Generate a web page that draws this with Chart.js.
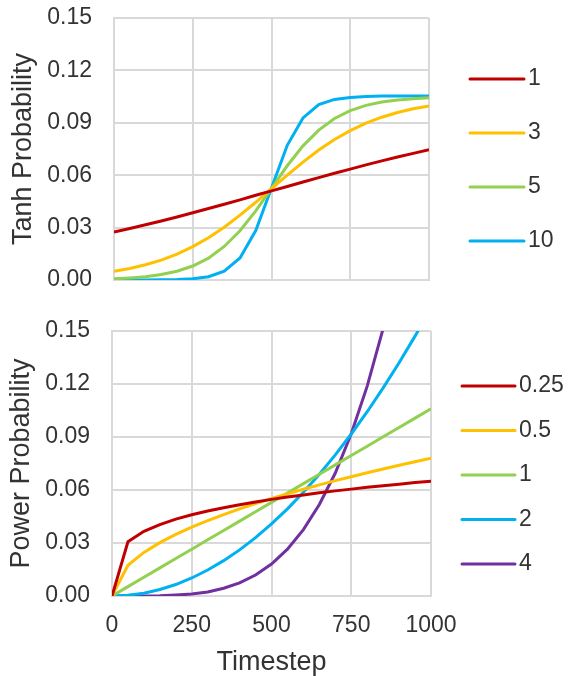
<!DOCTYPE html>
<html>
<head>
<meta charset="utf-8">
<script src="https://cdn.jsdelivr.net/npm/chart.js@4.4.1/dist/chart.umd.min.js"></script>
<style>
body{margin:0;background:#fff;width:569px;height:676px;position:relative;overflow:hidden}
canvas{position:absolute;left:0}
#tanh{top:0}
#power{top:300px}
</style>
</head>
<body>
<canvas id="tanh" width="569" height="300"></canvas>
<canvas id="power" width="569" height="376"></canvas>
<script>
// Data
const timesteps=[0,50,100,150,200,250,300,350,400,450,500,550,600,650,700,750,800,850,900,950,1000];
const xTickValues=[0,250,500,750,1000];
const yTickValues=[0,0.03,0.06,0.09,0.12,0.15];

const tanhLabels=["1","3","5","10"];
const tanh1=[0.0274,0.0295,0.0316,0.0338,0.0361,0.0385,0.0409,0.0434,0.0459,0.0485,0.0510,0.0535,0.0561,0.0586,0.0611,0.0635,0.0659,0.0682,0.0704,0.0725,0.0746];
const tanh3=[0.0050,0.0066,0.0087,0.0114,0.0148,0.0191,0.0242,0.0302,0.0371,0.0445,0.0523,0.0601,0.0675,0.0744,0.0804,0.0855,0.0898,0.0932,0.0959,0.0980,0.0996];
const tanh5=[0.0007,0.0012,0.0019,0.0031,0.0050,0.0080,0.0125,0.0192,0.0282,0.0396,0.0525,0.0654,0.0768,0.0858,0.0925,0.0970,0.1000,0.1019,0.1031,0.1038,0.1043];
const tanh10=[0.0000,0.0000,0.0000,0.0001,0.0003,0.0007,0.0019,0.0050,0.0126,0.0283,0.0527,0.0771,0.0928,0.1004,0.1034,0.1045,0.1051,0.1053,0.1054,0.1054,0.1054];

const powerLabels=["0.25","0.5","1","2","4"];
const pow025=[0,0.0307,0.0366,0.0404,0.0435,0.0460,0.0481,0.0500,0.0517,0.0532,0.0547,0.0560,0.0572,0.0584,0.0595,0.0605,0.0615,0.0624,0.0633,0.0642,0.0650];
const pow05=[0,0.0174,0.0247,0.0302,0.0349,0.0390,0.0427,0.0461,0.0493,0.0523,0.0552,0.0578,0.0604,0.0629,0.0653,0.0675,0.0698,0.0719,0.0740,0.0760,0.0780];
const pow1=[0,0.0053,0.0106,0.0159,0.0212,0.0265,0.0318,0.0371,0.0424,0.0477,0.0530,0.0583,0.0636,0.0689,0.0742,0.0795,0.0848,0.0901,0.0954,0.1007,0.1060];
const pow2=[0,0.0004,0.0016,0.0037,0.0065,0.0102,0.0147,0.0200,0.0261,0.0330,0.0408,0.0493,0.0587,0.0689,0.0799,0.0917,0.1043,0.1178,0.1320,0.1471,0.1630];
const pow4=[0,0.0000,0.0000,0.0001,0.0005,0.0011,0.0023,0.0044,0.0074,0.0119,0.0181,0.0265,0.0376,0.0518,0.0696,0.0918,0.1188,0.1514,0.1903,0.2362,0.2900];

// Styles
const palette=["#C00000","#FFC000","#92D050","#00B0F0","#7030A0"];
const GRID="#d9d9d9";
const TEXT="#333333";
const FAMILY="'Liberation Sans', Arial, sans-serif";
Chart.defaults.font.family=FAMILY;
Chart.defaults.color=TEXT;

// legend drawn as short line + label to the right of the plot
const lineLegend={
id:"lineLegend",
afterDatasetsDraw(chart,args,opts){
const ctx=chart.ctx;
ctx.save();
ctx.font="23px "+FAMILY;
ctx.textBaseline="middle";
ctx.fillStyle=TEXT;
chart.data.datasets.forEach((ds,i)=>{
const y=opts.y0+i*opts.step;
ctx.strokeStyle=ds.borderColor;
ctx.lineWidth=3;
ctx.lineCap="round";
ctx.beginPath();ctx.moveTo(opts.x0,y);ctx.lineTo(opts.x1,y);ctx.stroke();
ctx.fillText(ds.label,opts.x1+4,y);
});
ctx.restore();
}
};

function makeChart(id,labels,series,cfg){
return new Chart(document.getElementById(id),{
type:"line",
data:{
datasets:series.map((vals,i)=>({
label:labels[i],
data:timesteps.map((t,j)=>({x:t,y:vals[j]})),
borderColor:palette[i],
backgroundColor:palette[i],
borderWidth:3,
pointRadius:0,
tension:0
}))
},
options:{
responsive:false,
animation:false,
devicePixelRatio:1,
layout:{padding:{top:cfg.top,right:cfg.right,left:0,bottom:0}},
plugins:{legend:{display:false},tooltip:{enabled:false},lineLegend:cfg.legend},
scales:{
x:{
type:"linear",min:0,max:1000,
afterBuildTicks:s=>{s.ticks=xTickValues.map(v=>({value:v}));},
afterFit:s=>{s.height=cfg.xh;},
grid:{color:GRID,lineWidth:2,drawTicks:false},
border:{color:GRID,width:2},
ticks:{display:cfg.showX,font:{size:23},color:TEXT,padding:16,maxRotation:0,callback:v=>String(v)},
title:{display:cfg.showX,text:"Timestep",font:{size:27,lineHeight:1},color:TEXT,padding:{top:0,bottom:0}}
},
y:{
min:0,max:0.15,
afterBuildTicks:s=>{s.ticks=yTickValues.map(v=>({value:v}));},
afterFit:s=>{s.width=cfg.yw;},
// invisible tick marks give the gap between labels and plot
grid:{color:GRID,lineWidth:2,drawTicks:true,tickLength:22,tickColor:"rgba(0,0,0,0)"},
border:{color:GRID,width:2},
ticks:{font:{size:23},color:TEXT,padding:0,callback:v=>v.toFixed(2)},
title:{display:true,text:cfg.yTitle,font:{size:27,lineHeight:1},color:TEXT,padding:{top:cfg.titlePad,bottom:0}}
}
}
},
plugins:[lineLegend]
});
}

makeChart("tanh",tanhLabels,[tanh1,tanh3,tanh5,tanh10],{
top:18,right:140,xh:20,yw:114,showX:false,yTitle:"Tanh Probability",titlePad:10,
legend:{x0:470,x1:524,y0:79,step:54}
});

makeChart("power",powerLabels,[pow025,pow05,pow1,pow2,pow4],{
top:31,right:138,xh:80,yw:112,showX:true,yTitle:"Power Probability",titlePad:8,
legend:{x0:462,x1:515,y0:86,step:44.5}
});
</script>
</body>
</html>
